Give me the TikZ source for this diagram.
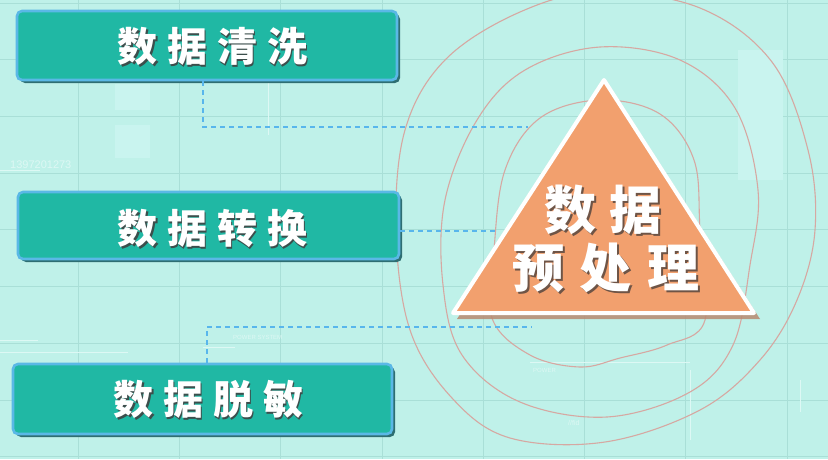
\documentclass[tikz,border=0pt]{standalone}
\usepackage{fontspec}
\newfontfamily\cjk{Noto Sans CJK SC}
\newfontfamily\faint{Liberation Sans}
\usetikzlibrary{shadows,calc}
\definecolor{bgc}{HTML}{BFF1E9}
\definecolor{gridc}{HTML}{A9DFD7}
\definecolor{boxfill}{HTML}{20B8A4}
\definecolor{boxborder}{HTML}{5AB8E6}
\definecolor{boxshade}{HTML}{2E6E72}
\definecolor{txtshade}{HTML}{3C4E4C}
\definecolor{trifill}{HTML}{F2A06E}
\definecolor{trishade}{HTML}{B98A70}
\definecolor{trishadetxt}{HTML}{6E5446}
\definecolor{dashc}{HTML}{58B6EC}
\definecolor{ringc}{HTML}{D6A8A2}
\definecolor{lightrect}{HTML}{C9F4EF}
\definecolor{faintc}{HTML}{DDF8F4}
\newcommand\mkshadow[3]{\rlap{\hspace*{#2}\raisebox{-#2}{\textcolor{#1}{#3}}}#3}
\tikzset{
  gridline/.style={draw=gridc, line width=0.8pt},
  ring/.style={draw=ringc, line width=1.1pt},
  stepbox/.style={draw=boxborder, line width=2.6pt, fill=boxfill, rounded corners=5pt,
    inner sep=0pt,
    drop shadow={shadow xshift=3pt, shadow yshift=-3pt, fill=boxshade, opacity=1}},
  boxtxt/.style={text=white, inner sep=0pt, font=\cjk\bfseries\fontsize{40}{40}\selectfont},
  tritxt/.style={text=white, inner sep=0pt, font=\cjk\bfseries\fontsize{52}{52}\selectfont},
  link/.style={draw=dashc, line width=2pt, dash pattern=on 5pt off 4pt},
  tinytxt/.style={text=faintc, inner sep=0pt, font=\faint\fontsize{#1}{#1}\selectfont},
}
\begin{document}
\begin{tikzpicture}[x=1pt,y=-1pt]
\useasboundingbox (0,0) rectangle (828,459);
\fill[bgc] (0,0) rectangle (828,459);
% grid
\foreach \i in {0,...,7} \draw[gridline] ({78+101.3*\i},0) -- ({78+101.3*\i},459);
\foreach \j in {0,...,8} \draw[gridline] (0,{3+56.7*\j}) -- (828,{3+56.7*\j});
% faint background panels
\fill[lightrect] (115,84) rectangle (150,110);
\fill[lightrect] (115,125) rectangle (150,158);
\fill[lightrect] (738,50) rectangle (783,180);
\draw[faintc, line width=1pt] (0,170) -- (40,170);
\draw[faintc, line width=1pt] (0,340) -- (38,340);
\draw[faintc, line width=0.8pt] (0,352) -- (128,352);
\draw[faintc, line width=0.8pt] (203,347) -- (235,347);
\draw[faintc, line width=0.8pt] (530,362) -- (690,362);
\draw[faintc, line width=1pt] (690,370) -- (690,440);
\draw[faintc, line width=1pt] (800,380) -- (800,412);
\draw[faintc, line width=0.8pt] (268,80) -- (268,135);
\node[tinytxt=11, anchor=west] (n1) at (10,165) {1397201273};
\node[tinytxt=6, anchor=west] (n2) at (233,337) {POWER SYSTEM};
\node[tinytxt=6, anchor=west] (n3) at (533,370) {POWER};
\node[tinytxt=7, anchor=west] (n4) at (568,423) {//fid};
% rings
\draw[ring] plot[smooth cycle, tension=0.6] coordinates {
  (600,100) (660,114) (694,160) (700,230) (705,320) (667,345) (620,358)
  (580,367) (530,355) (492,318) (494,250) (505,170) (540,118)};
\draw[ring] plot[smooth cycle, tension=0.6] coordinates {
  (600,47) (680,60) (735,108) (758,190) (750,265) (733,345) (690,392)
  (607,417) (520,402) (462,355) (443,285) (445,200) (477,120) (525,70)};
\draw[ring] plot[smooth cycle, tension=0.6] coordinates {
  (600,-8) (700,8) (772,62) (808,150) (815,230) (797,300) (760,360)
  (700,410) (605,442) (510,438) (452,398) (410,330) (396,230) (405,130)
  (445,60) (520,12)};
% connector points
\coordinate (j1) at (203,127);
\coordinate (e1) at (528,127);
\coordinate (e2) at (498,231);
\coordinate (j3) at (207,327);
\coordinate (e3) at (532,327);
% boxes
\node[stepbox, minimum width=380pt, minimum height=69pt] (box1) at (207,45.5) {};
\node[stepbox, minimum width=381pt, minimum height=67pt] (box2) at (208.5,225.5) {};
\node[stepbox, minimum width=379pt, minimum height=70pt] (box3) at (202.5,399) {};
% connectors
\draw[link] (box1.south -| j1) -- (j1) -- (e1);
\draw[link] (box2.east |- e2) -- (e2);
\draw[link] (box3.north -| j3) -- (j3) -- (e3);
% box texts
\node[boxtxt] (t1) at (212,47) {\mkshadow{txtshade}{2pt}{数\hspace{10pt}据\hspace{10pt}清\hspace{10pt}洗}};
\node[boxtxt] (t2) at (212,229) {\mkshadow{txtshade}{2pt}{数\hspace{10pt}据\hspace{10pt}转\hspace{10pt}换}};
\node[boxtxt] (t3) at (208,400) {\mkshadow{txtshade}{2pt}{数\hspace{10pt}据\hspace{10pt}脱\hspace{10pt}敏}};
% triangle
\coordinate (tA) at (604,80);
\coordinate (tB) at (453,313);
\coordinate (tC) at (754,313);
\fill[trishade, opacity=0.85, line join=round] ($(tA)+(4,4)$) -- ($(tB)+(4,6)$) -- ($(tC)+(6,6)$) -- cycle;
\draw[fill=trifill, draw=white, line width=4pt, line join=round] (tA) -- (tB) -- (tC) -- cycle;
\node[tritxt] (t4) at (603,211) {\mkshadow{trishadetxt}{2pt}{数\hspace{13pt}据}};
\node[tritxt] (t5) at (606,269) {\mkshadow{trishadetxt}{2pt}{预\hspace{16pt}处\hspace{16pt}理}};
\end{tikzpicture}
\end{document}
